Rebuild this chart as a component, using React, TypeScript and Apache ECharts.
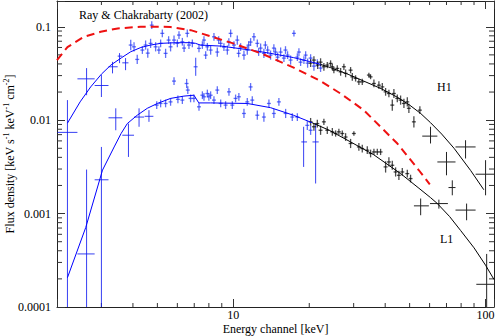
import React, { useEffect, useRef } from "react";
import * as echarts from "echarts";

const FONT = '"Liberation Serif", "Times New Roman", Times, serif';

// Tick values
const xMinorTicks = [3, 4, 5, 6, 7, 8, 9, 20, 30, 40, 50, 60, 70, 80, 90];
const yMinorTicks = [
  0.0002, 0.0003, 0.0004, 0.0005, 0.0006, 0.0007, 0.0008, 0.0009,
  0.002, 0.003, 0.004, 0.005, 0.006, 0.007, 0.008, 0.009,
  0.02, 0.03, 0.04, 0.05, 0.06, 0.07, 0.08, 0.09,
];

// Big crosses: [E, F, Elo, Ehi, Flo, Fhi]
const h1BlueBig = [
  [2.2, 0.0074, 2.01, 2.41, 0.00005, 0.0164],
  [2.62, 0.0277, 2.41, 2.82, 0.0185, 0.0361],
  [3.0, 0.0235, 2.82, 3.2, 0.0177, 0.0304],
  [3.32, 0.0373, 3.2, 3.48, 0.0317, 0.0421],
  [3.54, 0.0485, 3.48, 3.63, 0.0408, 0.0522],
  [3.74, 0.0411, 3.63, 3.84, 0.0343, 0.0462],
];
const l1BlueBig = [
  [2.62, 0.00037, 2.41, 2.82, 0.00005, 0.00296],
  [3.0, 0.0023, 2.82, 3.2, 0.00005, 0.00517],
  [3.42, 0.0106, 3.2, 3.63, 0.0078, 0.0134],
  [3.84, 0.0069, 3.63, 4.04, 0.00404, 0.0092],
  [4.23, 0.0108, 4.04, 4.43, 0.0085, 0.0134],
  [4.63, 0.011, 4.45, 4.82, 0.0096, 0.0128],
  [19.0, 0.00585, 18.6, 19.6, 0.00316, 0.0085],
  [21.2, 0.00585, 20.6, 21.8, 0.0021, 0.0093],
];
const h1BlackBig = [
  [60.5, 0.00675, 56.1, 64.4, 0.00563, 0.0085],
  [70.0, 0.00357, 64.4, 76.0, 0.00257, 0.00457],
  [83.3, 0.00517, 76.0, 91.3, 0.00389, 0.0061],
  [100, 0.00264, 91.3, 108, 0.00157, 0.00373],
];
const l1BlackBig = [
  [55.3, 0.00121, 52.0, 59.6, 0.00096, 0.00145],
  [65.3, 0.00128, 60.2, 70.9, 0.00113, 0.00141],
  [73.8, 0.0019, 71.3, 76.0, 0.00157, 0.00227],
  [84.1, 0.00109, 76.0, 91.3, 0.000848, 0.00128],
  [101, 0.000175, 91.9, 108, 0.00005, 0.00037],
];

// Dense channels: [E, F, relative flux error]
const h1BlueDense = [
  [3.92, 0.0637, 0.14], [4.04, 0.061, 0.12], [4.16, 0.0447, 0.12], [4.36, 0.0563, 0.1],
  [4.49, 0.0637, 0.12], [4.58, 0.0522, 0.12], [4.7, 0.0664, 0.12], [4.75, 0.104, 0.1],
  [4.92, 0.061, 0.12], [5.07, 0.0563, 0.1], [5.15, 0.0664, 0.1], [5.23, 0.085, 0.1],
  [5.39, 0.0519, 0.12], [5.54, 0.072, 0.1], [5.64, 0.061, 0.12], [5.82, 0.072, 0.12],
  [6.0, 0.0664, 0.1], [6.09, 0.0815, 0.1], [6.28, 0.0691, 0.1], [6.38, 0.0591, 0.1],
  [6.57, 0.085, 0.1], [6.67, 0.0637, 0.1], [6.88, 0.0664, 0.1], [7.09, 0.0373, 0.25],
  [7.31, 0.0587, 0.1], [7.54, 0.0637, 0.1], [7.65, 0.072, 0.1], [7.77, 0.0497, 0.1],
  [7.89, 0.061, 0.1], [8.13, 0.0563, 0.12], [8.38, 0.0781, 0.1], [8.64, 0.0536, 0.12],
  [8.75, 0.072, 0.1], [8.91, 0.0664, 0.1], [9.18, 0.0606, 0.1], [9.47, 0.0563, 0.12],
  [9.6, 0.0686, 0.1], [9.76, 0.085, 0.1], [10.06, 0.0637, 0.1], [10.37, 0.072, 0.12],
  [10.5, 0.0519, 0.1], [10.69, 0.0606, 0.1], [11.02, 0.0497, 0.12], [11.36, 0.0563, 0.12],
  [11.5, 0.0637, 0.1], [11.71, 0.0686, 0.1], [12.07, 0.0781, 0.1], [12.45, 0.0664, 0.1],
  [12.6, 0.0536, 0.1], [12.83, 0.0591, 0.12], [13.22, 0.0519, 0.12], [13.4, 0.0637, 0.1],
  [13.68, 0.0563, 0.1], [14.05, 0.0497, 0.12], [14.48, 0.0591, 0.1], [14.7, 0.0536, 0.1],
  [14.98, 0.0473, 0.12], [15.4, 0.0536, 0.12], [15.87, 0.0462, 0.1], [16.1, 0.0563, 0.1],
  [16.41, 0.0497, 0.1], [16.87, 0.044, 0.12], [17.39, 0.085, 0.08], [17.94, 0.0473, 0.1],
  [18.2, 0.0536, 0.1], [18.48, 0.0418, 0.1], [19.05, 0.044, 0.1], [19.35, 0.0497, 0.1],
  [19.7, 0.0408, 0.12], [20.25, 0.0462, 0.1], [20.87, 0.0379, 0.12], [21.53, 0.0408, 0.1],
  [22.18, 0.0361, 0.1],
];
const h1BlackDense = [
  [20.25, 0.0408, 0.1], [20.87, 0.044, 0.1], [21.6, 0.0389, 0.1], [22.18, 0.0418, 0.1],
  [22.86, 0.0373, 0.1], [23.58, 0.0389, 0.08], [24.3, 0.0405, 0.08], [24.69, 0.0373, 0.08],
  [25.04, 0.0343, 0.08], [25.83, 0.0358, 0.08], [26.63, 0.0329, 0.1], [27.44, 0.0373, 0.08],
  [27.87, 0.0317, 0.1], [29.17, 0.0343, 0.08], [29.63, 0.0291, 0.1], [30.53, 0.028, 0.08],
  [31.46, 0.0257, 0.08], [32.45, 0.0257, 0.08], [34.47, 0.0304, 0.06], [35.01, 0.0291, 0.06],
  [36.09, 0.0247, 0.1], [37.77, 0.0237, 0.1], [38.96, 0.0227, 0.1], [40.15, 0.0201, 0.1],
  [41.38, 0.0193, 0.1], [42.68, 0.0145, 0.15], [43.31, 0.0193, 0.12], [44.67, 0.0171, 0.1],
  [46.04, 0.0164, 0.12], [47.46, 0.0151, 0.12], [48.95, 0.0157, 0.12], [49.66, 0.0134, 0.12],
  [51.98, 0.0096, 0.15], [54.9, 0.0128, 0.1],
];
const l1BlueDense = [
  [4.97, 0.0145, 0.1], [5.15, 0.0151, 0.1], [5.39, 0.0151, 0.1], [5.64, 0.0157, 0.1],
  [5.82, 0.0262, 0.1], [6.03, 0.0167, 0.1], [6.28, 0.0164, 0.1], [6.53, 0.0247, 0.12],
  [6.6, 0.021, 0.1], [6.77, 0.0171, 0.1], [6.98, 0.0171, 0.1], [7.31, 0.0139, 0.1],
  [7.54, 0.0185, 0.1], [7.65, 0.0178, 0.1], [7.89, 0.0193, 0.1], [8.0, 0.0178, 0.1],
  [8.13, 0.0185, 0.1], [8.38, 0.0164, 0.1], [8.64, 0.021, 0.1], [8.91, 0.0151, 0.1],
  [9.32, 0.0145, 0.1], [9.61, 0.0201, 0.1], [9.91, 0.0145, 0.1], [10.21, 0.0171, 0.1],
  [10.52, 0.0178, 0.1], [11.02, 0.0118, 0.12], [11.36, 0.0157, 0.1], [11.71, 0.0227, 0.1],
  [11.89, 0.0164, 0.1], [12.45, 0.0113, 0.12], [13.22, 0.0108, 0.12], [13.84, 0.0151, 0.1],
  [14.48, 0.0118, 0.12], [15.16, 0.0157, 0.1], [16.12, 0.0118, 0.12], [17.13, 0.0108, 0.1],
  [17.94, 0.0108, 0.1], [19.65, 0.0088, 0.12], [20.25, 0.0078, 0.12],
];
const l1BlackDense = [
  [20.25, 0.0096, 0.1], [20.87, 0.0085, 0.1], [21.53, 0.0092, 0.1], [22.18, 0.0078, 0.12],
  [22.86, 0.0096, 0.08], [23.58, 0.0078, 0.1], [24.69, 0.0075, 0.1], [25.44, 0.0072, 0.08],
  [26.21, 0.0075, 0.08], [27.04, 0.0072, 0.08], [27.87, 0.0066, 0.1], [29.17, 0.00563, 0.12],
  [30.06, 0.0072, 0.06], [31.46, 0.00517, 0.1], [32.45, 0.00497, 0.1], [33.97, 0.00477, 0.1],
  [35.01, 0.0044, 0.1], [36.09, 0.00457, 0.08], [37.22, 0.00457, 0.08], [38.36, 0.00457, 0.08],
  [40.15, 0.00316, 0.15], [41.38, 0.00357, 0.12], [42.68, 0.00329, 0.12], [43.99, 0.00279, 0.12],
  [45.33, 0.00257, 0.12], [46.76, 0.00279, 0.1], [48.95, 0.00268, 0.1], [50.43, 0.00237, 0.1],
];

// Model curves
const h1ModelBlue = [
  [2.2, 0.0093], [2.47, 0.0157], [2.72, 0.0227], [3.0, 0.0311], [3.27, 0.0389], [3.6, 0.0465],
  [3.92, 0.054], [4.3, 0.06], [4.7, 0.0637], [5.15, 0.0664], [5.8, 0.0674], [6.77, 0.0676],
  [7.09, 0.0664], [7.4, 0.0637], [9.0, 0.062], [11.7, 0.0563], [14.0, 0.052], [17.3, 0.0468],
  [20.0, 0.0425], [22.2, 0.0395],
];
const h1ModelBlack = [
  [22.2, 0.0395], [24.3, 0.0365], [28.5, 0.031], [32.9, 0.0262], [38.5, 0.0218], [44.7, 0.0176],
  [50.0, 0.0145], [55.3, 0.0118], [60.5, 0.0094], [67.0, 0.0071], [75.0, 0.005], [87.2, 0.0029],
  [98.4, 0.0018],
];
const l1ModelBlue = [
  [2.2, 0.000206], [2.6, 0.00071], [3.03, 0.00292], [3.37, 0.00517], [3.59, 0.0072], [3.8, 0.0092],
  [4.16, 0.0113], [4.56, 0.0134], [5.0, 0.0151], [5.64, 0.0171], [6.37, 0.0181], [6.98, 0.0185],
  [7.3, 0.0153], [8.13, 0.0153], [11.36, 0.0151], [14.06, 0.0136], [17.3, 0.0113], [20.5, 0.0094],
];
const l1ModelBlack = [
  [20.5, 0.0094], [24.0, 0.0078], [29.17, 0.00585], [36.0, 0.00427], [46.04, 0.00268],
  [54.0, 0.0019], [60.56, 0.00148], [64.4, 0.00128], [72.0, 0.00093], [79.6, 0.00066],
  [90.0, 0.00043], [100.0, 0.00028], [108.0, 0.000197],
];
const rayChakrabarty = [
  [2.0, 0.044], [2.2, 0.0605], [2.55, 0.078], [2.98, 0.0883], [3.48, 0.096], [4.29, 0.1],
  [5.15, 0.1], [5.64, 0.0995], [6.78, 0.092], [10.06, 0.066], [13.2, 0.0505], [17.35, 0.0365],
  [22.2, 0.0262], [26.6, 0.0193], [32.9, 0.0128], [44.7, 0.00562], [54.4, 0.00291], [60.1, 0.00206],
];

const X_HALF = 0.018; // channel half-width (relative)

function dense(rows: number[][]) {
  return rows.map(([e, f, r]) => [e, f, e * (1 - X_HALF), e * (1 + X_HALF), f / (1 + r), f * (1 + r)]);
}

function crossRenderer(color: string, lw: number) {
  return (params: any, api: any) => {
    const e = api.value(0), f = api.value(1);
    const c = api.coord([e, f]);
    const l = api.coord([api.value(2), f]);
    const r = api.coord([api.value(3), f]);
    const t = api.coord([e, api.value(5)]);
    const b = api.coord([e, api.value(4)]);
    return {
      type: "group",
      children: [
        { type: "line", shape: { x1: l[0], y1: c[1], x2: r[0], y2: c[1] }, style: { stroke: color, lineWidth: lw } },
        { type: "line", shape: { x1: c[0], y1: t[1], x2: c[0], y2: b[1] }, style: { stroke: color, lineWidth: lw } },
      ],
    };
  };
}

function errSeries(data: number[][], color: string, lw: number) {
  return {
    type: "custom",
    renderItem: crossRenderer(color, lw),
    data,
    clip: true,
    silent: true,
    z: 2,
  };
}

function lineSeries(data: number[][], color: string, width: number, dash?: any) {
  return {
    type: "line",
    data,
    showSymbol: false,
    symbol: "none",
    silent: true,
    clip: true,
    lineStyle: { color, width, type: dash || "solid" },
    z: 3,
  };
}

const logLabel = (v: number) => {
  const lg = Math.log10(v);
  const e = Math.round(lg);
  if (Math.abs(lg - e) > 1e-6) return "";
  return e >= 0 ? String(Math.pow(10, e)) : Math.pow(10, e).toFixed(-e);
};

export default function App() {
  const ref = useRef<HTMLDivElement>(null);
  useEffect(() => {
    if (!ref.current) return;
    const chart = echarts.init(ref.current, null, { renderer: "svg" });
    const axisLine = { show: true, lineStyle: { color: "#222", width: 1 } };
    const tick = { show: true, inside: true, length: 8, lineStyle: { color: "#333", width: 1 } };
    const option: any = {
      animation: false,
      backgroundColor: "#fff",
      textStyle: { fontFamily: FONT },
      grid: { left: 57, right: 2, top: 1, bottom: 29, containLabel: false, outerBoundsMode: "none" },
      xAxis: [
        {
          type: "log", logBase: 10, min: 2, max: 108, position: "bottom",
          axisLine, axisTick: tick, splitLine: { show: false },
          axisLabel: { formatter: logLabel, fontFamily: FONT, fontSize: 12, color: "#000", margin: 2 },
          name: "Energy channel [keV]", nameLocation: "middle", nameGap: 22, nameMoveOverlap: false,
          nameTextStyle: { fontFamily: FONT, fontSize: 12, color: "#000", verticalAlign: "middle" },
        },
        {
          type: "log", logBase: 10, min: 2, max: 108, position: "top",
          axisLine, axisTick: tick, splitLine: { show: false }, axisLabel: { show: false },
        },
      ],
      yAxis: [
        {
          type: "log", logBase: 10, min: 0.0001, max: 0.1887, position: "left",
          axisLine, axisTick: tick, splitLine: { show: false },
          axisLabel: { formatter: logLabel, fontFamily: FONT, fontSize: 12, color: "#000", margin: 6 },
          name: "{a|Flux density [keV s}{s|-1}{a| keV}{s|-1}{a| cm}{s|-2}{a|]}",
          nameLocation: "middle", nameGap: 41, nameRotate: 90, nameMoveOverlap: false,
          nameTextStyle: {
            rich: {
              a: { fontFamily: FONT, fontSize: 12, color: "#000", lineHeight: 14, verticalAlign: "bottom" },
              s: { fontFamily: FONT, fontSize: 8, color: "#000", lineHeight: 9, verticalAlign: "top" },
            },
          },
        },
        {
          type: "log", logBase: 10, min: 0.0001, max: 0.1887, position: "right",
          axisLine, axisTick: tick, splitLine: { show: false }, axisLabel: { show: false },
        },
      ],
      series: [
        // minor ticks
        {
          type: "custom", silent: true, z: 1,
          data: xMinorTicks.map((v) => [v, 0.001]),
          renderItem: (params: any, api: any) => {
            const cs = params.coordSys;
            const x = api.coord([api.value(0), api.value(1)])[0];
            const st = { stroke: "#333", lineWidth: 1 };
            return {
              type: "group",
              children: [
                { type: "line", shape: { x1: x, y1: cs.y + cs.height, x2: x, y2: cs.y + cs.height - 4 }, style: st },
                { type: "line", shape: { x1: x, y1: cs.y, x2: x, y2: cs.y + 4 }, style: st },
              ],
            };
          },
        },
        {
          type: "custom", silent: true, z: 1,
          data: yMinorTicks.map((v) => [10, v]),
          renderItem: (params: any, api: any) => {
            const cs = params.coordSys;
            const y = api.coord([api.value(0), api.value(1)])[1];
            const st = { stroke: "#333", lineWidth: 1 };
            return {
              type: "group",
              children: [
                { type: "line", shape: { x1: cs.x, y1: y, x2: cs.x + 5, y2: y }, style: st },
                { type: "line", shape: { x1: cs.x + cs.width, y1: y, x2: cs.x + cs.width - 5, y2: y }, style: st },
              ],
            };
          },
        },
        errSeries(h1BlueBig, "rgba(20,30,240,0.85)", 1),
        errSeries(dense(h1BlueDense), "rgba(30,50,245,0.7)", 1.3),
        errSeries(l1BlueBig, "rgba(20,30,240,0.85)", 1),
        errSeries(dense(l1BlueDense), "rgba(30,50,245,0.7)", 1.3),
        errSeries(dense(h1BlackDense), "rgba(0,0,0,0.7)", 1.3),
        errSeries(dense(l1BlackDense), "rgba(0,0,0,0.7)", 1.3),
        errSeries(h1BlackBig, "#222", 1),
        errSeries(l1BlackBig, "#222", 1),
        lineSeries(h1ModelBlue, "#0000ff", 1),
        lineSeries(l1ModelBlue, "#0000ff", 1),
        lineSeries(h1ModelBlack, "#000", 1),
        lineSeries(l1ModelBlack, "#000", 1),
        lineSeries(rayChakrabarty, "#ee1111", 2, [8, 5]),
      ],
      graphic: [
        { type: "text", x: 79, y: 15, style: { text: "Ray & Chakrabarty (2002)", font: `12px ${FONT}`, fill: "#000", verticalAlign: "middle" } },
        { type: "text", x: 437, y: 87, style: { text: "H1", font: `12px ${FONT}`, fill: "#000", verticalAlign: "middle" } },
        { type: "text", x: 440, y: 239, style: { text: "L1", font: `12px ${FONT}`, fill: "#000", verticalAlign: "middle" } },
      ],
    };
    chart.setOption(option);
    return () => chart.dispose();
  }, []);
  return <div ref={ref} style={{ width: 496, height: 336, position: "absolute", left: 0, top: 0 }} />;
}
